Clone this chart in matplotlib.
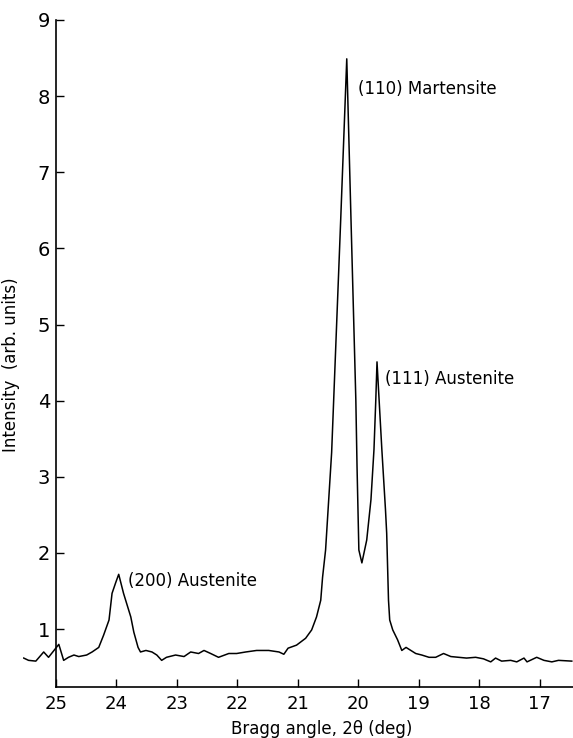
import matplotlib
matplotlib.use("Agg")
import matplotlib.pyplot as plt

# Bragg angle (deg) and intensity, left to right
angle = [25.53, 25.45, 25.33, 25.20, 25.12, 25.03, 24.95, 24.87, 24.79, 24.70,
         24.62, 24.49, 24.40, 24.29, 24.21, 24.12, 24.07, 24.01, 23.96, 23.88,
         23.76, 23.71, 23.64, 23.60, 23.51, 23.41, 23.33, 23.25, 23.17, 23.02,
         22.88, 22.77, 22.64, 22.55, 22.44, 22.31, 22.14, 22.01, 21.86, 21.68,
         21.48, 21.31, 21.23, 21.16, 21.02, 20.87, 20.77, 20.69, 20.62, 20.59,
         20.54, 20.44, 20.29, 20.19, 20.12, 20.04, 20.02, 19.99, 19.94, 19.86,
         19.79, 19.74, 19.71, 19.69, 19.61, 19.55, 19.53, 19.50, 19.48, 19.43,
         19.35, 19.28, 19.21, 19.13, 19.05, 18.95, 18.83, 18.72, 18.59, 18.47,
         18.34, 18.21, 18.06, 17.93, 17.81, 17.73, 17.63, 17.48, 17.38, 17.26,
         17.21, 17.05, 16.93, 16.80, 16.69, 16.47]
intensity = [0.62, 0.59, 0.58, 0.70, 0.63, 0.72, 0.80, 0.59, 0.63, 0.66,
             0.64, 0.66, 0.70, 0.76, 0.92, 1.12, 1.47, 1.61, 1.72, 1.47,
             1.16, 0.96, 0.76, 0.70, 0.72, 0.70, 0.66, 0.59, 0.63, 0.66,
             0.64, 0.70, 0.68, 0.72, 0.68, 0.63, 0.68, 0.68, 0.70, 0.72,
             0.72, 0.70, 0.67, 0.75, 0.79, 0.88, 0.99, 1.16, 1.38, 1.68,
             2.04, 3.32, 6.38, 8.49, 6.38, 4.01, 3.13, 2.04, 1.87, 2.17,
             2.70, 3.36, 4.01, 4.51, 3.36, 2.57, 2.26, 1.38, 1.12, 0.99,
             0.86, 0.72, 0.76, 0.72, 0.68, 0.66, 0.63, 0.63, 0.68, 0.64,
             0.63, 0.62, 0.63, 0.61, 0.57, 0.62, 0.58, 0.59, 0.57, 0.62,
             0.57, 0.63, 0.59, 0.57, 0.59, 0.58]

# peak labels
peak_names = ["(110) Martensite", "(111) Austenite", "(200) Austenite"]
peak_x = [20.01, 19.56, 23.81]
peak_y = [8.09, 4.29, 1.63]

fig = plt.figure(figsize=(5.73, 7.38), dpi=100)
ax = fig.add_axes([0.0393, 0.0691, 0.9607, 0.9038])

ax.plot(angle, intensity, color="black", lw=1.1)

for name, x, y in zip(peak_names, peak_x, peak_y):
    ax.text(x, y, name, fontsize=12, ha="left", va="center")

ax.set_xlim(25.55, 16.45)
ax.set_ylim(0.24, 9.0)

ax.spines["top"].set_visible(False)
ax.spines["right"].set_visible(False)
ax.spines["left"].set_position(("data", 25))
ax.spines["bottom"].set_bounds(25, 16.45)
for s in ("left", "bottom"):
    ax.spines[s].set_linewidth(1.2)

ax.set_xticks(range(17, 26))
ax.set_yticks(range(1, 10))
ax.tick_params(axis="both", direction="in", length=6, width=1.0)
ax.tick_params(axis="y", labelsize=14, pad=4)
ax.tick_params(axis="x", labelsize=13, pad=6)

ax.set_xlabel("Bragg angle, 2θ (deg)", fontsize=12)
ax.xaxis.set_label_coords(0.544, -0.049)
ax.set_ylabel("Intensity  (arb. units)", fontsize=12)
ax.yaxis.set_label_coords(-0.005, 0.483)

fig.savefig("out.png", dpi=100)
